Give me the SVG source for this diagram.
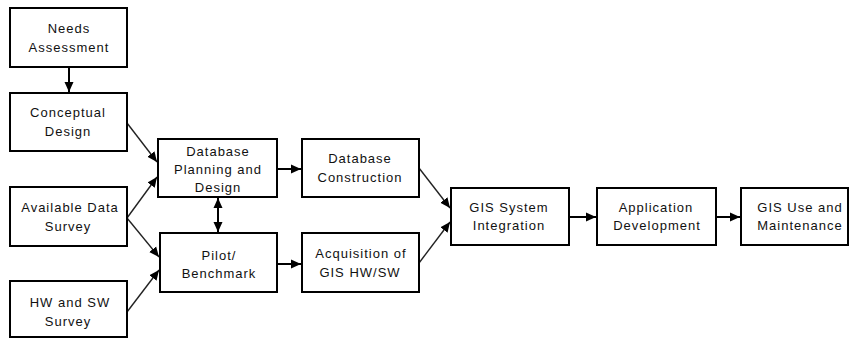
<svg xmlns="http://www.w3.org/2000/svg" width="849" height="339" viewBox="0 0 849 339">
  <style>
    .box { fill: #ffffff; stroke: #000000; stroke-width: 2; }
    .lbl { font-family: "Liberation Sans", Arial, sans-serif; font-size: 13px; letter-spacing: 1px; fill: #111111; text-anchor: middle; }
    .conn { stroke: #000000; stroke-width: 2; fill: none; }
    .diag { stroke: #222222; stroke-width: 1.4; fill: none; }
  </style>
  <defs>
    <marker id="head" markerUnits="userSpaceOnUse" markerWidth="11" markerHeight="10" refX="10" refY="5" orient="auto">
      <path d="M0,0.5 L10,5 L0,9.5 z" fill="#000000"/>
    </marker>
    <marker id="tail" markerUnits="userSpaceOnUse" markerWidth="11" markerHeight="10" refX="0" refY="5" orient="auto">
      <path d="M10,0.5 L0,5 L10,9.5 z" fill="#000000"/>
    </marker>
  </defs>
  <rect width="849" height="339" fill="#ffffff"/>

  <g id="connectors">
    <line class="conn" x1="69" y1="67" x2="69" y2="92" marker-end="url(#head)"/>
    <line class="diag" x1="127" y1="123" x2="157" y2="162" marker-end="url(#head)"/>
    <line class="diag" x1="127" y1="218" x2="157" y2="177" marker-end="url(#head)"/>
    <line class="diag" x1="127" y1="218" x2="159" y2="257" marker-end="url(#head)"/>
    <line class="diag" x1="127" y1="312" x2="159" y2="270" marker-end="url(#head)"/>
    <line class="conn" x1="218" y1="198" x2="218" y2="232" marker-start="url(#tail)" marker-end="url(#head)"/>
    <line class="conn" x1="277" y1="169" x2="301" y2="169" marker-end="url(#head)"/>
    <line class="conn" x1="277" y1="264" x2="301" y2="264" marker-end="url(#head)"/>
    <line class="diag" x1="419" y1="168" x2="450" y2="208" marker-end="url(#head)"/>
    <line class="diag" x1="419" y1="263" x2="450" y2="222" marker-end="url(#head)"/>
    <line class="conn" x1="569" y1="217" x2="596" y2="217" marker-end="url(#head)"/>
    <line class="conn" x1="716" y1="217" x2="740" y2="217" marker-end="url(#head)"/>
  </g>

  <g id="needs-assessment">
    <rect class="box" x="10" y="8" width="117" height="59"/>
    <text class="lbl" x="69" y="33">Needs</text>
    <text class="lbl" x="69" y="52">Assessment</text>
  </g>
  <g id="conceptual-design">
    <rect class="box" x="10" y="93" width="117" height="58"/>
    <text class="lbl" x="68" y="117">Conceptual</text>
    <text class="lbl" x="68" y="136">Design</text>
  </g>
  <g id="available-data-survey">
    <rect class="box" x="10" y="187" width="117" height="59"/>
    <text class="lbl" x="70" y="212">Available Data</text>
    <text class="lbl" x="68" y="231">Survey</text>
  </g>
  <g id="hw-sw-survey">
    <rect class="box" x="10" y="281" width="117" height="56"/>
    <text class="lbl" x="70" y="307">HW and SW</text>
    <text class="lbl" x="68" y="326">Survey</text>
  </g>
  <g id="database-planning">
    <rect class="box" x="158" y="139" width="119" height="58"/>
    <text class="lbl" x="218" y="156">Database</text>
    <text class="lbl" x="218" y="174">Planning and</text>
    <text class="lbl" x="218" y="192">Design</text>
  </g>
  <g id="pilot-benchmark">
    <rect class="box" x="160" y="233" width="117" height="59"/>
    <text class="lbl" x="219" y="260">Pilot/</text>
    <text class="lbl" x="219" y="278">Benchmark</text>
  </g>
  <g id="database-construction">
    <rect class="box" x="302" y="139" width="117" height="58"/>
    <text class="lbl" x="360" y="163">Database</text>
    <text class="lbl" x="360" y="182">Construction</text>
  </g>
  <g id="acquisition">
    <rect class="box" x="302" y="233" width="117" height="59"/>
    <text class="lbl" x="361" y="258">Acquisition of</text>
    <text class="lbl" x="360" y="277">GIS HW/SW</text>
  </g>
  <g id="gis-integration">
    <rect class="box" x="451" y="188" width="118" height="57"/>
    <text class="lbl" x="509" y="212">GIS System</text>
    <text class="lbl" x="509" y="230">Integration</text>
  </g>
  <g id="application-development">
    <rect class="box" x="597" y="188" width="119" height="57"/>
    <text class="lbl" x="656" y="212">Application</text>
    <text class="lbl" x="657" y="230">Development</text>
  </g>
  <g id="gis-use">
    <rect class="box" x="741" y="188" width="107" height="57"/>
    <text class="lbl" x="800" y="212">GIS Use and</text>
    <text class="lbl" x="800" y="230">Maintenance</text>
  </g>
</svg>
